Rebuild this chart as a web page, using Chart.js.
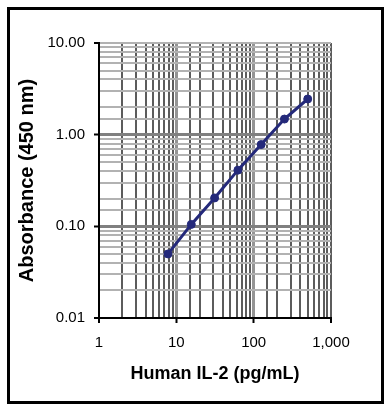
<!DOCTYPE html>
<html>
<head>
<meta charset="utf-8">
<script src="https://cdn.jsdelivr.net/npm/chart.js@4"></script>
<style>
  html, body { margin: 0; padding: 0; background: #fff; }
  #wrap { position: relative; width: 392px; height: 420px; }
  #frame { position: absolute; left: 7px; top: 7px; width: 371px; height: 391px; border: 3px solid #000; }
  canvas { position: absolute; left: 0; top: 0; }
</style>
</head>
<body>
<div id="wrap">
  <div id="frame"></div>
  <canvas id="c" width="392" height="420"></canvas>
</div>
<script>
// Data
const concentrations = [7.8, 15.6, 31.25, 62.5, 125, 250, 500];   // Human IL-2 (pg/mL)
const absorbance     = [0.050, 0.105, 0.204, 0.41, 0.78, 1.48, 2.45]; // OD 450 nm

const xTickValues = [1, 10, 100, 1000];
const xTickLabels = ['1', '10', '100', '1,000'];
const yTickValues = [0.01, 0.1, 1, 10];
const yTickLabels = ['0.01', '0.10', '1.00', '10.00'];

const xTitle = 'Human IL-2 (pg/mL)';
const yTitle = 'Absorbance (450 nm)';

const points = concentrations.map((c, i) => ({ x: c, y: absorbance[i] }));

function findIdx(arr, v) {
  for (let i = 0; i < arr.length; i++) {
    if (Math.abs(arr[i] - v) / arr[i] < 1e-6) return i;
  }
  return -1;
}

Chart.defaults.font.family = "'Liberation Sans', Arial, sans-serif";
Chart.defaults.color = '#000';

new Chart(document.getElementById('c'), {
  type: 'line',
  data: {
    datasets: [{
      data: points,
      borderColor: '#24297a',
      backgroundColor: '#24297a',
      borderWidth: 3,
      pointRadius: 4,
      pointHoverRadius: 4,
      pointBorderWidth: 1,
      tension: 0,
      fill: false
    }]
  },
  options: {
    responsive: false,
    animation: false,
    events: [],
    layout: { padding: { left: 0, top: 43, right: 61, bottom: 0 } },
    plugins: { legend: { display: false }, tooltip: { enabled: false } },
    scales: {
      x: {
        type: 'logarithmic',
        min: 1,
        max: 1000,
        afterFit: s => { s.height = 102; },
        border: { display: true, color: '#000', width: 2 },
        grid: {
          color: ctx => {
            const i = findIdx(xTickValues, ctx.tick.value);
            if (i === 1 || i === 2) return '#949494';
            return '#5c5c5c';
          },
          lineWidth: ctx => {
            const i = findIdx(xTickValues, ctx.tick.value);
            return (i === 1 || i === 2) ? 3 : 2;
          },
          tickColor: ctx => findIdx(xTickValues, ctx.tick.value) >= 0 ? '#000' : 'rgba(0,0,0,0)',
          tickWidth: 2,
          tickLength: 5
        },
        ticks: {
          autoSkip: false,
          maxRotation: 0,
          padding: 11,
          font: { size: 15 },
          color: '#000',
          callback: v => {
            const i = findIdx(xTickValues, v);
            return i >= 0 ? xTickLabels[i] : '';
          }
        },
        title: {
          display: true,
          text: xTitle,
          font: { size: 18, weight: 'bold' },
          color: '#000',
          padding: { top: 0, bottom: 35 }
        }
      },
      y: {
        type: 'logarithmic',
        min: 0.01,
        max: 10,
        afterFit: s => { s.width = 99; },
        border: { display: true, color: '#000', width: 2 },
        grid: {
          color: ctx => {
            const i = findIdx(yTickValues, ctx.tick.value);
            if (i === 1 || i === 2) return '#808080';
            return '#b2b2b2';
          },
          lineWidth: ctx => {
            const i = findIdx(yTickValues, ctx.tick.value);
            return (i === 1 || i === 2) ? 3 : 2;
          },
          tickColor: ctx => findIdx(yTickValues, ctx.tick.value) >= 0 ? '#000' : 'rgba(0,0,0,0)',
          tickWidth: 2,
          tickLength: 5
        },
        ticks: {
          autoSkip: false,
          padding: 9,
          font: { size: 15 },
          color: '#000',
          callback: v => {
            const i = findIdx(yTickValues, v);
            return i >= 0 ? yTickLabels[i] : '';
          }
        },
        title: {
          display: true,
          text: yTitle,
          font: { size: 20, weight: 'bold' },
          color: '#000',
          padding: { top: 15, bottom: 0 }
        }
      }
    }
  }
});
</script>
</body>
</html>
